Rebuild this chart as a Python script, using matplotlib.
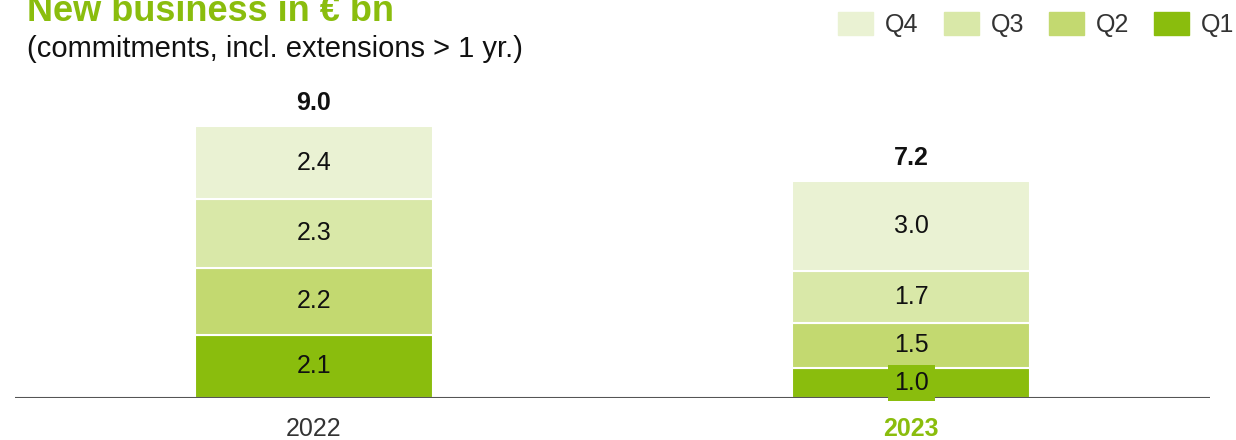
import matplotlib.pyplot as plt
from matplotlib.patches import Patch

plt.rcParams['font.family'] = ['Liberation Sans', 'DejaVu Sans']

# data
years = ['2022', '2023']
quarters = ['Q1', 'Q2', 'Q3', 'Q4']
q1 = [2.1, 1.0]
q2 = [2.2, 1.5]
q3 = [2.3, 1.7]
q4 = [2.4, 3.0]
totals = [9.0, 7.2]

colors = ['#8abd0d', '#c3d970', '#d9e8a8', '#eaf2d3']
green = '#8abd0d'

fig = plt.figure(figsize=(12.36, 4.4), dpi=100)
ax = fig.add_axes([15/1236, 42/440, 1195/1236, 317/440])

x = [0, 1]
bottom = [0, 0]
for vals, c in zip([q1, q2, q3, q4], colors):
    bars = ax.bar(x, vals, 0.398, bottom=bottom, color=c, edgecolor='white', linewidth=1.5)
    for i, b in enumerate(bars):
        cy = bottom[i] + vals[i] / 2
        kw = {}
        if vals[i] < 1.2:
            # small segment: label sits on its own green box
            kw['bbox'] = dict(boxstyle='square,pad=0.25', fc=c, ec='none')
        ax.text(b.get_x() + b.get_width() / 2, cy, '%.1f' % vals[i], ha='center', va='center',
                fontsize=18, color='#111111', zorder=4, **kw)
    bottom = [bottom[i] + vals[i] for i in range(2)]

for i, t in enumerate(totals):
    ax.annotate('%.1f' % t, (x[i], t), xytext=(0, 8), textcoords='offset points',
                ha='center', va='bottom', fontsize=18, fontweight='bold', color='#111111')

ax.set_xlim(-0.5, 1.5)
ax.set_ylim(0, 10.5)
ax.axhline(0, color='#555555', lw=1.5, zorder=3)
for s in ax.spines.values():
    s.set_visible(False)
ax.set_yticks([])
ax.set_xticks(x)
ax.set_xticklabels(years, fontsize=18)
ax.tick_params(axis='x', length=0, pad=14)
lbls = ax.get_xticklabels()
lbls[0].set_color('#333333')
lbls[1].set_color(green)
lbls[1].set_fontweight('bold')

fig.text(27/1236, 1 - 21/440, 'New business in € bn', fontsize=26, fontweight='bold',
         color=green, va='baseline')
fig.text(27/1236, 1 - 57/440, '(commitments, incl. extensions > 1 yr.)', fontsize=21,
         color='#111111', va='baseline')

handles = [Patch(color=colors[k]) for k in [3, 2, 1, 0]]
labels = [quarters[k] for k in [3, 2, 1, 0]]
fig.legend(handles, labels, loc='upper left', bbox_to_anchor=(818/1236, 1 + 8/440), ncol=4,
           frameon=False, fontsize=18, handlelength=1.4, handleheight=1.04,
           handletextpad=0.48, columnspacing=1.0, borderpad=0.3, labelcolor='#333333')

fig.savefig('out.png', dpi=100)
